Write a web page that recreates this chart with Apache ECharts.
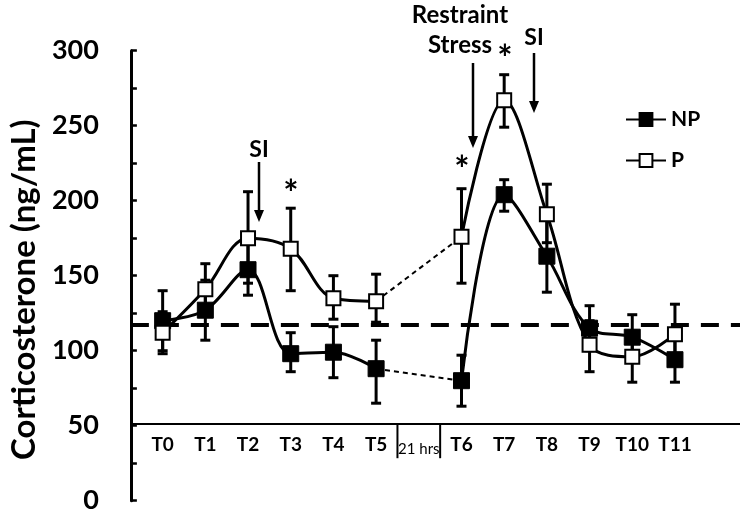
<!DOCTYPE html>
<html>
<head>
<meta charset="utf-8">
<script src="https://cdn.jsdelivr.net/npm/echarts@6/dist/echarts.min.js"></script>
<style>
    html, body { margin: 0; padding: 0; background: #fff; }
    #chart1 { width: 750px; height: 515px; }
</style>
</head>
<body>
<div id="chart1"></div>
<script>
// time points (the "21 hrs" slot is the gap between the two days)
var categories = ['T0', 'T1', 'T2', 'T3', 'T4', 'T5', '21 hrs', 'T6', 'T7', 'T8', 'T9', 'T10', 'T11'];
var gapSlot = 6;
// NP group: mean and error bar ends (ng/mL)
var npMean = [120, 127, 154, 98, 99, 88, null, 80, 204, 163, 115, 109, 94];
var npLow  = [100, 107, 137, 86, 82, 65, null, 63, 193, 139, 100, 95, 79];
var npHigh = [140, 147, 171, 112, 116, 107, null, 97, 214, 187, 130, 124, 109];
// P group
var pMean = [112, 141, 175, 168, 135, 133, null, 176, 267, 191, 104, 96, 111];
var pLow  = [98, 124, 145, 140, 121, 119, null, 145, 249, 172, 86, 79, 91];
var pHigh = [126, 158, 206, 195, 150, 151, null, 208, 284, 211, 120, 113, 131];
// baseline level (dashed) and where the time axis crosses
var baseline = 117;
var axisCross = 51;

var FONT = 'Lato, "Open Sans", sans-serif';

// only keep T5 -> T6 for the thin dashed link over the night
function bridge(arr) {
    return arr.map(function (v, i) {
        return (i === gapSlot - 1 || i === gapSlot + 1) ? v : null;
    });
}
function errData(low, high) {
    var out = [];
    for (var i = 0; i < low.length; i++) {
        if (low[i] != null) out.push([i, low[i], high[i]]);
    }
    return out;
}
function errorBars(name, low, high) {
    return {
        name: name + ' err',
        type: 'custom',
        xAxisIndex: 1,
        yAxisIndex: 1,
        z: 1,
        silent: true,
        data: errData(low, high),
        renderItem: function (params, api) {
            var top = api.coord([api.value(0), api.value(2)]);
            var bot = api.coord([api.value(0), api.value(1)]);
            var hw = 5;
            var st = { stroke: '#000', lineWidth: 3 };
            return {
                type: 'group',
                children: [
                    { type: 'line', shape: { x1: top[0], y1: top[1], x2: bot[0], y2: bot[1] }, style: st },
                    { type: 'line', shape: { x1: top[0] - hw, y1: top[1], x2: top[0] + hw, y2: top[1] }, style: st },
                    { type: 'line', shape: { x1: bot[0] - hw, y1: bot[1], x2: bot[0] + hw, y2: bot[1] }, style: st }
                ]
            };
        }
    };
}
// downward arrow for the annotations
function arrow(x, y1, y2) {
    return {
        type: 'group',
        children: [
            { type: 'line', shape: { x1: x, y1: y1, x2: x, y2: y2 - 8 }, style: { stroke: '#000', lineWidth: 2.5 } },
            { type: 'polygon', shape: { points: [[x - 5, y2 - 12], [x + 5, y2 - 12], [x, y2]] }, style: { fill: '#000' } }
        ]
    };
}
function note(text, x, y, size) {
    return {
        type: 'text', x: x, y: y,
        style: { text: text, fill: '#000', font: 'bold ' + size + 'px ' + FONT, textAlign: 'center', textVerticalAlign: 'middle' }
    };
}

(function () {
    var myChart = echarts.init(document.querySelector('#chart1'));
    var option = {
        animation: false,
        backgroundColor: '#fff',
        grid: [
            { left: 121, top: 50.7, width: 619, height: 450 },
            { left: 141.3, top: 50.7, width: 555, height: 375 }
        ],
        legend: {
            data: ['NP', 'P'],
            orient: 'vertical',
            left: 620,
            top: 104,
            itemWidth: 40,
            itemHeight: 16,
            itemGap: 20,
            textStyle: { fontFamily: FONT, fontSize: 21, fontWeight: 'bold', color: '#000' }
        },
        xAxis: [
            { gridIndex: 0, type: 'value', min: 0, max: 1, show: false },
            {
                gridIndex: 1,
                type: 'category',
                data: categories,
                boundaryGap: true,
                axisLine: { show: false },
                axisTick: { show: false },
                axisLabel: {
                    interval: 0,
                    margin: 10,
                    color: '#000',
                    fontFamily: FONT,
                    fontSize: 19,
                    fontWeight: 'bold',
                    formatter: function (v) { return v === '21 hrs' ? '{s|' + v + '}' : v; },
                    rich: { s: { fontFamily: FONT, fontSize: 15, fontWeight: 'normal', color: '#000', padding: [6, 0, 0, 0] } }
                }
            }
        ],
        yAxis: [
            {
                gridIndex: 0,
                type: 'value',
                min: 0,
                max: 300,
                interval: 25,
                name: 'Corticosterone (ng/mL)',
                nameLocation: 'middle',
                nameGap: 84,
                nameTextStyle: { fontFamily: FONT, fontSize: 33, fontWeight: 'bold', color: '#000', padding: [0, 28, 0, 0] },
                axisLine: { show: true, lineStyle: { color: '#000', width: 3 } },
                axisTick: { show: true, inside: true, length: 6, lineStyle: { color: '#000', width: 2.5 } },
                axisLabel: {
                    margin: 32,
                    color: '#000',
                    fontFamily: FONT,
                    fontSize: 27,
                    fontWeight: 'bold',
                    formatter: function (v) { return v % 50 === 0 ? String(v) : ''; }
                },
                splitLine: { show: false }
            },
            { gridIndex: 1, type: 'value', min: 50, max: 300, show: false }
        ],
        series: [
            {
                name: 'guides',
                type: 'line',
                xAxisIndex: 0,
                yAxisIndex: 0,
                data: [],
                markLine: {
                    silent: true,
                    symbol: 'none',
                    label: { show: false },
                    data: [
                        { yAxis: axisCross, lineStyle: { color: '#000', type: 'solid', width: 2 } },
                        { yAxis: baseline, lineStyle: { color: '#000', type: [18, 12], width: 4 } }
                    ]
                }
            },
            {
                // the two short dividers around the overnight slot
                name: 'divider',
                type: 'custom',
                xAxisIndex: 1,
                yAxisIndex: 1,
                silent: true,
                data: [[gapSlot, axisCross]],
                renderItem: function (params, api) {
                    var c = api.coord([api.value(0), api.value(1)]);
                    var w = api.size([1, 0])[0];
                    var st = { stroke: '#000', lineWidth: 2 };
                    return {
                        type: 'group',
                        children: [
                            { type: 'line', shape: { x1: c[0] - w / 2, y1: c[1], x2: c[0] - w / 2, y2: c[1] + 34 }, style: st },
                            { type: 'line', shape: { x1: c[0] + w / 2, y1: c[1], x2: c[0] + w / 2, y2: c[1] + 34 }, style: st }
                        ]
                    };
                }
            },
            errorBars('NP', npLow, npHigh),
            errorBars('P', pLow, pHigh),
            {
                name: 'np-link',
                type: 'line',
                xAxisIndex: 1, yAxisIndex: 1,
                data: bridge(npMean),
                connectNulls: true,
                showSymbol: false,
                z: 2,
                lineStyle: { color: '#000', width: 2, type: [5, 4] }
            },
            {
                name: 'p-link',
                type: 'line',
                xAxisIndex: 1, yAxisIndex: 1,
                data: bridge(pMean),
                connectNulls: true,
                showSymbol: false,
                z: 2,
                lineStyle: { color: '#000', width: 2, type: [5, 4] }
            },
            {
                name: 'NP',
                type: 'line',
                xAxisIndex: 1, yAxisIndex: 1,
                data: npMean,
                smooth: 0.35,
                connectNulls: false,
                symbol: 'rect',
                symbolSize: 16,
                z: 4,
                lineStyle: { color: '#000', width: 3 },
                itemStyle: { color: '#000', borderColor: '#000', borderWidth: 1 }
            },
            {
                name: 'P',
                type: 'line',
                xAxisIndex: 1, yAxisIndex: 1,
                data: pMean,
                smooth: 0.35,
                connectNulls: false,
                symbol: 'rect',
                symbolSize: 14,
                z: 5,
                lineStyle: { color: '#000', width: 3 },
                itemStyle: { color: '#fff', borderColor: '#000', borderWidth: 2 }
            }
        ],
        graphic: [
            note('SI', 259, 150, 23),
            arrow(259, 162, 222),
            note('*', 291, 194, 36),
            note('*', 462, 170, 36),
            note('Restraint', 460, 15, 24),
            note('Stress', 460, 45, 24),
            arrow(473, 63, 148),
            note('*', 505, 59, 36),
            note('SI', 534, 38, 23),
            arrow(534, 53, 113)
        ]
    };
    myChart.setOption(option);
    window.addEventListener('resize', function () {
        myChart.resize();
    });
})();
</script>
</body>
</html>
